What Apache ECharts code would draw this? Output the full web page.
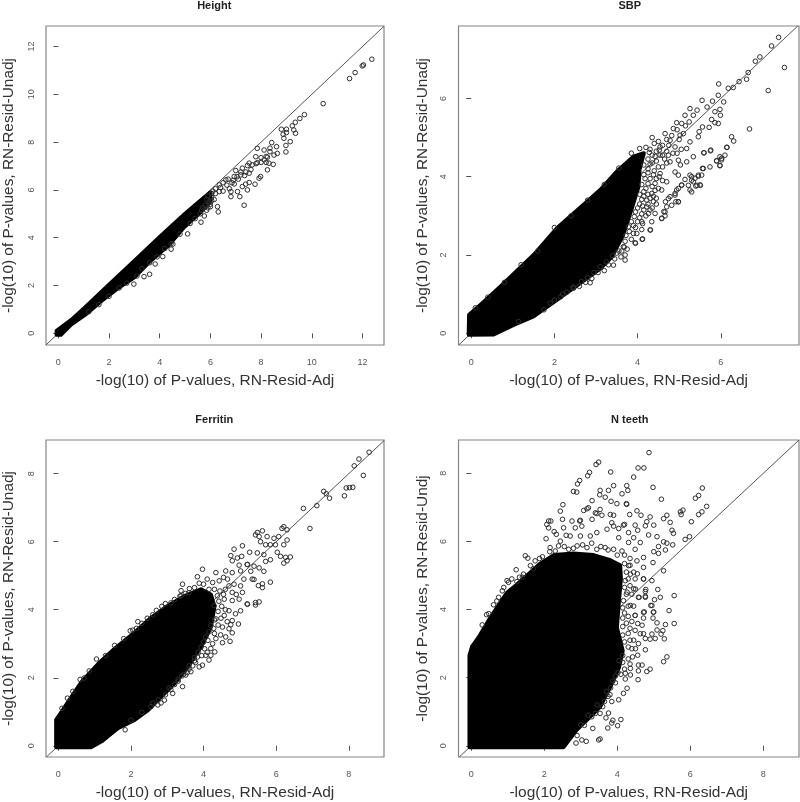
<!DOCTYPE html>
<html><head><meta charset="utf-8">
<style>html,body{margin:0;padding:0;background:#fff}#c{width:800px;height:802px}</style>
<script src="https://cdn.jsdelivr.net/npm/echarts@6/dist/echarts.min.js"></script>
</head><body><div id="c"></div>
<script>
const titles = ["Height","SBP","Ferritin","N teeth"];
const xTitle = "-log(10) of P-values, RN-Resid-Adj";
const yTitles = ["-log(10) of P-values, RN-Resid-Unadj","-log(10) of P-values, RN-Resid-Unadj","-log(10) of P-values, RN-Resid-Unadj","-log(10) of P-values, RN-Resid-Undj"];
const ticksHeight = [0,2,4,6,8,10,12];
const ticksSBP = [0,2,4,6];
const ticksFerritin = [0,2,4,6,8];
const ticksTeeth = [0,2,4,6,8];
const rangeHeightX = [-0.487,12.85], rangeHeightY = [-0.49,12.86];
const rangeSBPX = [-0.305,7.88], rangeSBPY = [-0.3,7.85];
const rangeFerritinX = [-0.34,8.97], rangeFerritinY = [-0.33,8.99];
const rangeTeethX = [-0.35,8.98], rangeTeethY = [-0.33,8.98];

// Solid black clouds, as outlines
const cloudHeight = [[-0.07,-0.06],[-0.07,0.1],[0.5,0.55],[1,1.03],[2,2.03],[3,3.03],[4,4.03],[5,5],[5.6,5.55],[6,5.9],[6,5.5],[5.6,5.05],[4.97,4.45],[4.32,3.65],[3.6,3],[3.01,2.35],[2.3,1.85],[1.7,1.35],[1.05,0.77],[0.5,0.36],[0.1,-0.06]];
const cloudSBP = [[-0.06,-0.04],[-0.05,0.47],[0.22,0.72],[0.7,1.19],[1.5,2],[2.06,2.68],[2.7,3.28],[3.1,3.66],[3.5,4.13],[3.9,4.51],[4.15,4.6],[4.05,4.2],[4.02,3.74],[3.85,3.15],[3.64,2.48],[3.38,1.95],[3.1,1.65],[2.62,1.28],[2.06,0.85],[1.5,0.43],[1.02,0.21],[0.54,-0.03]];
const cloudFerritin = [[-0.06,-0.04],[-0.06,0.76],[0.09,1],[0.27,1.29],[0.64,1.88],[1.1,2.41],[1.55,2.85],[2.1,3.33],[2.56,3.77],[3.01,4.11],[3.47,4.4],[3.93,4.6],[4.2,4.45],[4.3,4.1],[4.2,3.48],[3.95,2.95],[3.56,2.3],[3.2,1.83],[2.83,1.44],[2.47,1.05],[2.1,0.76],[1.64,0.52],[1.19,0.13],[0.91,-0.04]];
const cloudTeeth = [[-0.05,-0.04],[-0.05,2.65],[0.02,2.91],[0.2,3.18],[0.52,3.76],[0.7,4.05],[0.98,4.5],[1.16,4.65],[1.62,5.09],[1.89,5.35],[2.26,5.6],[2.8,5.65],[3.35,5.6],[3.81,5.45],[4.08,5.3],[4.1,4.9],[4.05,4.3],[3.99,3.47],[4.15,2.79],[4.05,2.31],[3.81,1.73],[3.53,1.14],[3.17,0.76],[2.89,0.47],[2.53,-0.04]];

// Individually visible open circles
const pointsHeight = [[12.37,11.47],[12.04,11.23],[11.99,11.19],[11.71,10.91],[11.49,10.66],[10.45,9.61],[9.71,9.15],[9.53,8.99],[9.35,8.83],[9.23,8.68],[8.8,8.54],[9,8.54],[9.29,8.51],[9.36,8.37],[9,8.4],[8.87,8.33],[8.9,8.16],[9.15,8.02],[8.98,7.86],[8.98,7.59],[8.42,7.98],[8.61,7.81],[8.35,7.6],[8.64,7.53],[8.51,7.46],[8.25,7.37],[8.12,7.67],[7.85,7.74],[7.79,7.39],[8.48,7.07],[8.31,7.12],[8.12,7.26],[7.85,7.14],[7.53,7.12],[7.46,7.02],[7.26,6.91],[7,6.81],[8.25,6.84],[7.98,6.56],[7.92,6.49],[7.53,6.31],[7.39,6.24],[7.76,6.24],[7.26,6.14],[7.46,6],[7.33,5.36],[7.16,5.72],[6.81,5.72],[7.07,5.93],[6.81,5.93],[6.94,6.25],[7.2,6.63],[7.53,6.7],[6.94,6.56],[6.61,6.42],[6.35,6.21],[6.35,5.93],[6.28,5.3],[6.31,5.08],[5.63,4.65],[5.76,4.91],[5.1,4.16],[4.52,3.73],[4.45,3.52],[4.12,3.21],[3.82,2.9],[3.6,2.47],[3.38,2.37],[2.98,2.06],[6.1,5.95],[6.2,6.05],[6.05,5.7],[6.15,5.6],[5.95,5.5],[5.8,5.35],[5.9,5.75],[6.5,6.3],[6.7,6.45],[6.85,6.3],[7.05,6.55],[7.4,6.75],[7.65,7.05],[8,7.35],[8.2,7.15],[1.2,0.9],[1.6,1.2],[2,1.55],[2.4,1.9],[2.7,2.1],[3.1,2.4],[3.3,2.7],[3.6,2.95],[3.9,3.2],[4.2,3.55],[4.45,3.75],[4.8,4.15],[5.2,4.6],[5.4,4.8],[5.6,5],[5.9,5.25],[6,5.4],[6.05,5.55],
[6.2,5.85],[6.4,6.1],[6.5,5.95],[6.65,6.2],[6.75,6.05],[6.9,6.4],[7.1,6.45],[7.2,6.75],[7.35,6.6],[7.6,6.85],[7.8,7.1],[8,7.15],[8.2,7.4],[8.35,7.75],[5.85,5.6],[6.05,5.85],[5.7,5.25],[6,5.3],[5.85,5.15],[5.65,5.15]];
const pointsSBP = [[7.39,7.56],[7.22,7.34],[7.53,6.79],[7.14,6.2],[6.94,7.06],[6.83,6.95],[6.66,6.66],[6.62,6.49],[6.44,6.43],[6.3,6.28],[6.18,6.26],[5.95,6.37],[6.69,5.22],[6.26,5.02],[6.31,4.91],[6.14,4.75],[6.1,4.55],[5.98,4.51],[6.02,4.43],[5.9,4.4],[5.98,4.28],[5.75,4.66],[5.59,4.61],[5.56,4.21],[5.54,4.04],[5.46,4.04],[5.38,3.96],[5.3,4],[5.5,3.79],[5.4,3.76],[5.26,3.66],[5.34,3.87],[5.26,4.04],[4.98,3.36],[4.92,3.36],[5.06,3.79],[4.94,3.66],[4.9,3.53],[4.78,3.49],[4.67,3.36],[4.63,3.11],[4.66,3],[4.58,2.94],[4.31,2.64],[4.12,2.41],[3.95,2.3],[3.7,1.87],[3.42,1.74],[2.86,1.29],[2.46,1.15],[1.9,0.77],[1.14,0.3],
[5.55,5.95],[5.94,6.08],[6.07,5.91],[5.8,5.93],[5.67,5.78],[5.98,5.72],[5.86,5.66],[5.99,5.57],[5.78,5.46],[5.94,5.36],[5.86,5.38],[5.72,5.26],[5.56,5.27],[5.48,5.15],[5.34,5.57],[5.26,5.74],[5.43,5.7],[5.14,5.57],[4.94,5.38],[5.06,5.36],[5.24,5.4],[5.46,5.02],[5.26,4.89],[5.18,4.72],[5.02,5.06],[4.86,5.23],[4.66,5.1],[4.78,4.93],[4.9,4.76],[4.54,4.76],[4.74,4.55],[4.78,4.38],[4.54,4.55],[4.98,4.42],[5.03,4.3],[5.18,4.38],[5.34,4.51],[5.6,4.61],[5.76,4.68],[5.9,4.41],[6.02,4.47],[6.15,4.75],[5.98,4.29],[5.74,4.25],[5.58,4.21],[5.46,4.01],[5.3,3.91],[5.14,3.93],[5.22,3.78],[5.43,3.78],[5.51,3.78],[5.3,3.61],[5.06,3.78],[4.98,3.7],[4.9,3.57],[4.74,3.44],[4.98,3.36],[4.82,3.27],[4.7,3.23],[4.66,3.1],[4.58,2.93],[4.34,2.85],[4.3,2.64],[4.11,2.4],[3.94,2.31],[3.66,2.21],[3.7,2],[4.42,3.06],[4.26,3.06],[4.38,3.36],[4.58,3.66],[4.7,3.87],[4.9,4.12],[4.98,4.04],[4.54,4.08],[4.34,3.57],[4.42,3.83],[4.22,3.23],[4.1,2.85],[3.9,2.55],
[4.2,4.75],[4.3,4.7],[4.4,4.85],[4.5,4.9],[4.35,4.55],[4.45,4.65],[4.6,4.8],[4.7,4.95],[4.25,4.45],[4.35,4.35],[4.45,4.4],[4.6,4.55],[4.7,4.65],[4.15,4.3],[4.25,4.2],[4.4,4.15],[4.6,4.25],[4.7,4.35],[4.15,4.05],[4.3,3.95],[4.45,3.95],[4.6,3.9],[4.1,3.8],[4.2,3.7],[4.35,3.75],[4.5,3.7],[4.05,3.55],[4.15,3.5],[4.3,3.45],[4.45,3.45],[4.05,3.3],[4.15,3.15],[4.25,3.3],[4.35,3.2],[3.95,3.1],[4.05,2.95],[4.2,3],[3.85,2.85],[3.95,2.7],[4.1,2.65],[3.8,2.6],[3.85,2.4],[3.7,2.35],[3.75,2.15],[3.55,2.1],[3.6,1.95],[3.45,1.9],[3.3,1.75],[3.2,1.6],[3.05,1.55],[2.9,1.4],[2.75,1.3],[2.6,1.2],[2.3,1.05],[2.15,0.93],[1.75,0.6],
[0.1,0.65],[0.4,0.92],[0.8,1.3],[1.2,1.75],[1.6,2.1],[2,2.7],[2.4,3],[2.8,3.4],[3.2,3.8],[3.55,4.22],[3.85,4.6],[4.05,4.72],[4.35,5],
[4.28,4.62],[4.42,4.52],[4.52,4.68],[4.3,4.32],[4.5,4.25],[4.25,4.1],[4.38,4.05],[4.52,4],[4.18,3.95],[4.25,3.82],[4.42,3.65],[4.15,3.62],[4.25,3.55],[4.38,3.5],[4.1,3.42],[4.22,3.4],[4.12,3.25],[4.3,3.15],[4,3.2],[4.1,3.05],[3.92,2.98],[4,2.85],[4.12,2.8],[3.9,2.75],[3.78,2.72],[3.98,2.55],[3.72,2.5],[3.68,2.2],[3.62,2.1],[3.5,2.05],[3.4,1.98],[3.25,1.82],[3.1,1.7],[2.95,1.55],[2.8,1.42],[2.65,1.32],[2.45,1.18],[2.2,1],[2,0.85],[4.75,4.8],[4.82,5.05],[4.95,5.2],[5.1,5.1],[5.15,5.3],[5,4.95],[4.85,4.6],[4.95,4.6],[5.05,4.7],[4.65,4.45],[4.45,3.3]];
const pointsFerritin = [[8.56,8.63],[8.28,8.43],[8.15,8.23],[8.4,7.95],[8.11,7.6],[8.02,7.59],[7.93,7.58],[7.88,7.35],[7.47,7.28],[7.38,7.41],[7.31,7.48],[7.12,7.06],[6.75,6.98],[6.93,6.39],[6.21,6.44],[6.16,6.39],[6.3,6.35],[5.62,6.32],[5.48,6.27],[5.43,6.2],[5.53,6.15],[5.94,6.1],[6.07,6.15],[5.75,6.15],[5.57,6],[5.71,5.91],[5.84,5.91],[5.98,5.91],[6.3,6.05],[6.21,5.91],[5.07,5.88],[4.84,5.78],[4.75,5.59],[5.05,5.57],[4.93,5.52],[4.79,5.44],[4.98,5.31],[5.27,5.69],[5.48,5.67],[5.66,5.62],[6.03,5.69],[6.26,5.54],[6.39,5.55],[6.3,5.44],[6.21,5.37],[6.12,5.57],[5.84,5.47],[5.71,5.42],[5.53,5.23],[5.66,5.13],[5.39,5.28],[5.21,5.33],[5.3,5.13],[5.39,4.89],[5.62,4.76],[5.84,4.81],[5.51,4.71],[5.62,4.65],[5.21,4.16],[5.43,4.21],[5.53,4.23],[5.43,4.14],[2.19,3.65],[1.98,3.38],[0.71,1.99],[1.84,0.47],[2.92,1.34],[2.83,1.26],[2.74,1.2],[3.15,1.54],
[3.97,5.19],[3.83,4.97],[3.42,4.75],[3.88,4.78],[3.61,4.62],[3.38,4.56],[3.38,4.41],[4.34,5.09],[4.25,4.8],[4.61,5.14],[4.79,5.09],[5.02,5.14],[5.2,5.33],[5.34,4.9],[5.11,4.9],[5.02,4.7],[4.84,4.75],[4.66,4.9],[4.43,4.85],[4.79,4.51],[5.07,4.51],[4.98,4.31],[4.79,4.27],[4.57,4.31],[5.2,4.17],[5.02,3.97],[4.88,3.88],[4.7,3.97],[4.57,3.83],[4.79,3.68],[4.96,3.58],[4.75,3.56],[4.52,3.49],[4.7,3.44],[4.79,3.32],[4.61,3.2],[4.73,3.07],[4.47,3.26],[4.52,3.03],[4.34,3.15],[4.2,2.86],[4.31,2.76],[4.06,2.66],[4.2,2.66],[4.15,2.52],[3.97,2.37],[3.88,2.32],[3.65,2.18],[3.51,2.08],[3.42,1.74],[4.38,4.41],[4.29,4.12],[4.34,3.73],[4.2,3.54],[4.06,3.2],[3.93,2.9],[3.83,2.61],
[0.1,1.1],[0.25,1.4],[0.4,1.6],[0.6,1.95],[0.85,2.2],[1.05,2.55],[1.3,2.65],[1.55,2.95],[1.8,3.15],[2.05,3.4],[2.3,3.6],[2.6,3.85],[2.85,4.1],[3.1,4.2],[3.35,4.4],[3.75,2.5],[3.6,2.35],[3.45,2.1],[3.3,1.9],[3.05,1.7],[2.6,1.25],
[4.3,4.6],[4.45,4.55],[4.6,4.6],[4.42,4.25],[4.55,4.45],[4.5,4.1],[4.4,3.95],[4.48,3.75],[4.3,3.7],[4.4,3.55],[4.28,3.45],[4.3,3.3],[4.15,3.35],[4.12,3.1],[4.25,3],[4,3.05],[4.03,2.85],[4.1,2.75],[3.95,2.65],[3.85,2.75],[3.75,2.6],[3.7,2.35],[3.78,2.45],[3.6,2.25],[3.55,2.15],[3.4,2.05],[3.3,1.95],[3.2,1.8],[3.1,1.65],[2.95,1.5],[2.75,1.35],[2.55,1.15],[2.3,0.98],[2,0.75],[3.6,4.5],[3.75,4.65],[4,4.75],[4.1,4.9],[3.5,4.48],[3.2,4.3],[2.95,4.18],[2.7,3.98],[2.45,3.75],[2.15,3.45],[4.15,4.6],[4.55,4.95],[4.7,4.7],[4.9,4.45],[4.6,4],[4.65,3.65]];
const pointsTeeth = [[4.87,8.61],[4.73,8.16],[4.57,8.16],[4.45,7.89],[3.82,8.04],[3.49,8.33],[3.42,8.26],[3.24,8.03],[3.19,7.93],[2.97,7.79],[2.91,7.69],[2.8,7.47],[2.89,7.45],[3.9,7.64],[3.53,7.5],[3.52,7.37],[3.76,7.5],[3.67,7.3],[3.83,7.18],[3.99,7.11],[4.13,7.4],[4.26,7.64],[4.29,7.5],[4.25,7.11],[4.98,7.59],[5.21,7.24],[6.33,7.57],[6.23,7.35],[6.14,7.27],[6.45,7.03],[6.32,6.87],[6.23,6.79],[5.8,6.92],[5.73,6.87],[5.75,6.79],[5.36,6.77],[5.27,6.67],[5.45,6.56],[6.03,6.58],[5.5,6.33],[5.54,6.24],[5.98,6.14],[5.86,6.06],[5.52,5.9],[5.36,5.95],[5.09,6.14],[4.86,6.19],[5,6.48],[4.81,6.58],[4.9,6.72],[4.77,6.46],[4.54,6.9],[4.65,6.77],[4.34,6.79],[4.49,6.48],[4.56,6.33],[4.26,7.09],[4.17,6.48],[4.04,6.38],[3.9,6.77],[3.58,6.77],[3.44,6.82],[3.31,7.2],[3.17,6.96],[3.08,6.91],[2.99,6.62],[5.27,5.99],[5.13,5.85],[5.13,5.65],[5.32,5.75],[5,5.7],
[2.51,7.08],[2.44,6.89],[2.12,6.6],[2.07,6.5],[2.18,6.6],[2.12,6.4],[2.27,6.29],[2.33,6.21],[2.05,6.08],[2.5,6.65],[2.76,6.6],[2.97,6.6],[3.03,6.45],[2.85,6.4],[2.53,6.4],[2.6,6.18],[2.44,6.01],[2.71,6.16],[2.99,6.16],[3.26,6.16],[3.44,6.26],[3.72,6.36],[3.9,6.45],[4.2,6.5],[4.04,6.11],[4.31,6.26],[4.45,6.11],[4.63,5.97],[1.48,5.58],[1.55,5.51],[1.23,5.17],[1.87,5.5],[1.75,5.43],[1.62,5.29],[1.43,5.04],[1.32,4.95],[1.11,4.9],[0.98,4.85],[0.89,4.65],[0.75,4.36],[0.61,4.14],[0.48,3.88],[2.16,5.82],[2.39,5.87],[2.67,5.77],[2.9,5.87],[3.17,5.82],[3.44,5.77],[3.67,5.82],[3.9,5.77],[4.13,5.72],[4.31,5.97],[4.49,5.77],[4.72,5.53],[4.54,5.43],[4.31,5.29],[4.72,5.24],[4.36,5.04],[4.22,4.85],[4.49,4.9],[4.72,4.9],[4.45,4.61],[4.78,4.59],[4.27,4.51],[4.58,4.36],[4.77,4.36],[4.17,4.26],[4.36,4.12],[4.95,4.12],[4.72,3.92],[4.99,3.92],[4.49,3.83],[3.31,6.65],[3.4,6.84],[3.53,6.94],[3.81,6.79],[3.85,6.55],[3.21,6.99],
[4.98,5.38],[5.27,5.14],[4.72,4.9],[4.95,4.85],[5.11,4.59],[5.18,4.36],[5.56,4.41],[5.02,4.29],[4.77,4.53],[4.77,4.39],[4.6,4.36],[4.92,4.12],[5.42,3.97],[5,3.93],[4.74,3.93],[4.49,3.83],[4.98,3.75],[4.72,3.75],[5.09,3.61],[5.32,3.56],[5.56,3.59],[4.56,3.59],[4.68,3.54],[4.49,3.39],[5.09,3.4],[5.25,3.38],[5.2,3.28],[4.95,3.28],[4.72,3.29],[4.63,3.29],[5.04,3.15],[5.29,3.14],[4.9,3.13],[4.77,3.15],[4.58,3],[4.77,2.82],[4.56,2.66],[4.42,2.61],[5.36,2.61],[5.27,2.47],[4.9,2.25],[4.81,2.18],[4.68,2.37],[4.58,2.37],[4.58,2.2],[4.57,1.94],[4.36,2.27],[4.22,2.13],[4.36,2.08],[4.22,1.96],[4.27,1.69],[4.17,1.54],[4.04,1.35],[3.85,1.3],[3.76,0.96],[4.1,0.77],[3.88,0.75],[4.01,0.59],[3.85,0.67],[3.69,0.82],[3.74,0.52],[3.53,0.2],
[3.49,0.17],[3.33,0.51],[3.15,0.13],[3.03,0.17],[2.87,0.08],[3.53,0.95],[4.3,3.3],[4.25,3.6],[4.2,3.9],[4.35,3.1],[4.4,2.85],[4.3,2.55],[4.15,2.45],[4.1,2.1],[3.95,1.85],[3.8,1.5],[3.65,1.3],[3.4,0.95],[3.2,0.9],[3,0.62],
[1.95,5.55],[2.15,5.7],[2.3,5.72],[2.55,5.85],[2.8,5.8],[3.05,5.9],[3.3,5.95],[3.55,5.85],[3.75,5.75],[4,5.6],[4.2,5.6],[4.35,5.5],[4.2,5.35],[4.35,5.3],[4.45,5.1],[4.25,5.1],[4.55,5.05],[4.3,4.9],[4.2,4.65],[4.35,4.7],[4.5,4.6],[4.25,4.45],[4.4,4.45],[4.15,4.05],[4.3,4.1],[4.45,4.1],[4.15,3.75],[4.3,3.8],[4.4,3.65],[4.15,3.5],[4.35,3.45],[4.15,3.25],[4.2,3.05],[4.45,3.1],[4.3,2.9],[4.5,2.85],[4.15,2.65],[4.35,2.4],[4.05,2.5],[4.2,2.25],[4.02,2.15],[3.95,2.05],[3.88,1.9],[3.82,1.7],[3.7,1.6],[3.75,1.45],[3.6,1.15],[3.45,1.2],[3.3,0.85],[3.1,0.6],[2.9,0.3],[0.3,3.55],[0.42,3.85],[0.7,4.25],[0.85,4.55],[1.02,4.8],[1.25,4.82],[1.4,4.95],[1.7,5.2]];

const diagHeight = [[-0.487,-0.487],[12.85,12.85]];
const diagSBP = [[-0.3,-0.3],[7.86,7.86]];
const diagFerritin = [[-0.33,-0.33],[8.98,8.98]];
const diagTeeth = [[-0.33,-0.33],[8.98,8.98]];

const layout = [
 {left:44.5,top:26,width:339.5,height:319},
 {left:458.5,top:26,width:340.5,height:319},
 {left:44.5,top:440,width:339.5,height:319.5},
 {left:458.5,top:440,width:340.5,height:319.5}
];
const panels = [
 {x:rangeHeightX,y:rangeHeightY,t:ticksHeight,cloud:cloudHeight,pts:pointsHeight,diag:diagHeight},
 {x:rangeSBPX,y:rangeSBPY,t:ticksSBP,cloud:cloudSBP,pts:pointsSBP,diag:diagSBP},
 {x:rangeFerritinX,y:rangeFerritinY,t:ticksFerritin,cloud:cloudFerritin,pts:pointsFerritin,diag:diagFerritin},
 {x:rangeTeethX,y:rangeTeethY,t:ticksTeeth,cloud:cloudTeeth,pts:pointsTeeth,diag:diagTeeth}
];
const FONT = '"Liberation Sans"';
const GREY = '#858585';
const grid=[],xAxis=[],yAxis=[],series=[],title=[];
panels.forEach((p,i)=>{
  const g = layout[i];
  grid.push({left:g.left,top:g.top,width:g.width,height:g.height,show:true,borderColor:GREY,borderWidth:1.2,backgroundColor:'#fff'});
  title.push({text:titles[i],left:g.left+g.width/2-(i%2?4:5),top:i<2?-5:409,textAlign:'center',
    textStyle:{fontFamily:FONT,fontSize:11,fontWeight:'bold',color:'#222'}});
  const axis = (range,name,gap,rot,margin,fs)=>({
    type:'value',gridIndex:i,min:range[0],max:range[1],name:name,nameLocation:'middle',nameGap:gap,
    nameTextStyle:{fontFamily:FONT,fontSize:fs,color:'#333'},
    splitLine:{show:false},
    axisLine:{show:false},
    axisTick:{show:true,length:5,lineStyle:{color:'#555',width:1},customValues:p.t},
    axisLabel:{show:true,rotate:rot,margin:margin,fontFamily:FONT,fontSize:9,color:'#555',customValues:p.t}
  });
  xAxis.push(axis(p.x,xTitle,28,0,13,15.5));
  yAxis.push(axis(p.y,yTitles[i],i%2?28:30,90,10,15.4));
  series.push({type:'line',z:1,xAxisIndex:i,yAxisIndex:i,data:p.diag,symbol:'none',silent:true,animation:false,
    lineStyle:{color:'#555',width:1}});
  series.push({type:'custom',z:2,xAxisIndex:i,yAxisIndex:i,data:p.cloud,silent:true,animation:false,clip:true,
    renderItem:(params,api)=>{
      if(params.dataIndex!==0) return null;
      return {type:'polygon',shape:{points:p.cloud.map(v=>api.coord(v))},style:{fill:'#000',stroke:'#000',lineWidth:4,lineJoin:'round'}};
    }});
  series.push({type:'scatter',z:3,xAxisIndex:i,yAxisIndex:i,data:p.pts,symbol:'circle',symbolSize:4.6,silent:true,animation:false,
    itemStyle:{color:'rgba(0,0,0,0)',borderColor:'#2e2e2e',borderWidth:1,opacity:1}});
});
const chart = echarts.init(document.getElementById('c'),null,{renderer:'canvas'});
chart.setOption({animation:false,backgroundColor:'#fff',title,grid,xAxis,yAxis,series});
</script></body></html>
